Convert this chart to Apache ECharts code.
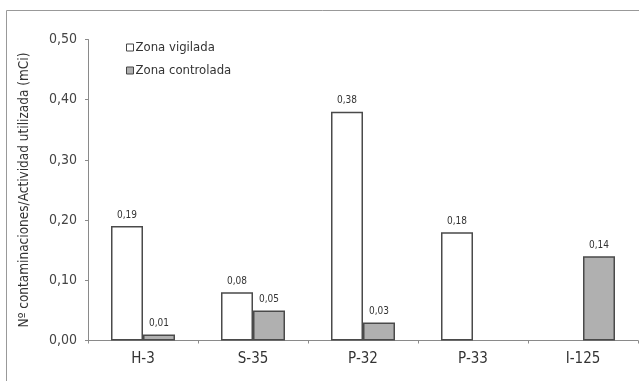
<!DOCTYPE html>
<html>
<head>
<meta charset="utf-8">
<script src="https://cdn.jsdelivr.net/npm/echarts@6/dist/echarts.min.js"></script>
<style>
  html, body { margin: 0; padding: 0; background: #fff; }
  #chart { width: 639px; height: 381px; }
</style>
</head>
<body>
<div id="chart"></div>
<script>
// Radionuclides on the category axis
const categories = ['H-3', 'S-35', 'P-32', 'P-33', 'I-125'];
// Contaminations per unit of activity used (mCi), by zone
const zonaVigilada = [0.19, 0.08, 0.38, 0.18, null];
const zonaControlada = [0.01, 0.05, 0.03, null, 0.14];
const yTicks = { min: 0, max: 0.5, interval: 0.1 };

const fmt = v => v.toFixed(2).replace('.', ',');
const font = '"DejaVu Sans Condensed", "Open Sans", sans-serif';

const chart = echarts.init(document.getElementById('chart'), null, { renderer: 'canvas' });

const labelStyle = {
  show: true,
  position: 'top',
  distance: 6,
  fontSize: 10,
  color: '#333',
  fontFamily: font,
  formatter: p => fmt(p.value)
};

chart.setOption({
  animation: false,
  grid: { left: 88, right: 1, top: 39.5, bottom: 40.5, containLabel: false },
  legend: {
    orient: 'vertical',
    left: 121,
    top: 36,
    itemWidth: 7,
    itemHeight: 7,
    itemGap: 10,
    icon: 'rect',
    textStyle: { fontSize: 13, color: '#333', fontFamily: font, padding: [0, 0, 0, -3] },
    data: [
      { name: 'Zona vigilada', itemStyle: { color: '#fff', borderColor: '#444', borderWidth: 1 } },
      { name: 'Zona controlada', itemStyle: { color: '#b0b0b0', borderColor: '#444', borderWidth: 1 } }
    ]
  },
  xAxis: {
    type: 'category',
    data: categories,
    axisLine: { lineStyle: { color: '#8a8a8a', width: 1 } },
    axisTick: { show: true, length: 3, lineStyle: { color: '#8a8a8a' } },
    axisLabel: { fontSize: 15, color: '#333', fontFamily: font, margin: 11 }
  },
  yAxis: {
    type: 'value',
    min: yTicks.min,
    max: yTicks.max,
    interval: yTicks.interval,
    name: 'Nº contaminaciones/Actividad utilizada (mCi)',
    nameLocation: 'middle',
    nameGap: 57,
    nameTextStyle: { fontSize: 13.5, color: '#333', fontFamily: font },
    axisLine: { show: true, lineStyle: { color: '#8a8a8a', width: 1 } },
    axisTick: { show: true, length: 3, lineStyle: { color: '#8a8a8a' } },
    splitLine: { show: false },
    axisLabel: { fontSize: 14, color: '#444', fontFamily: font, margin: 11, formatter: v => fmt(v) }
  },
  series: [
    {
      name: 'Zona vigilada',
      type: 'bar',
      data: zonaVigilada,
      barWidth: 32,
      barGap: '0%',
      itemStyle: { color: '#fff', borderColor: '#4a4a4a', borderWidth: 1.5 },
      label: labelStyle
    },
    {
      name: 'Zona controlada',
      type: 'bar',
      data: zonaControlada,
      barWidth: 32,
      barGap: '0%',
      itemStyle: { color: '#b0b0b0', borderColor: '#4a4a4a', borderWidth: 1.5 },
      label: labelStyle
    }
  ],
  graphic: [
    // frame around the figure: top and left edges
    { type: 'line', shape: { x1: 6.5, y1: 10.5, x2: 639, y2: 10.5 }, style: { stroke: '#999', lineWidth: 1 } },
    { type: 'line', shape: { x1: 6.5, y1: 10.5, x2: 6.5, y2: 381 }, style: { stroke: '#999', lineWidth: 1 } }
  ]
});
</script>
</body>
</html>
